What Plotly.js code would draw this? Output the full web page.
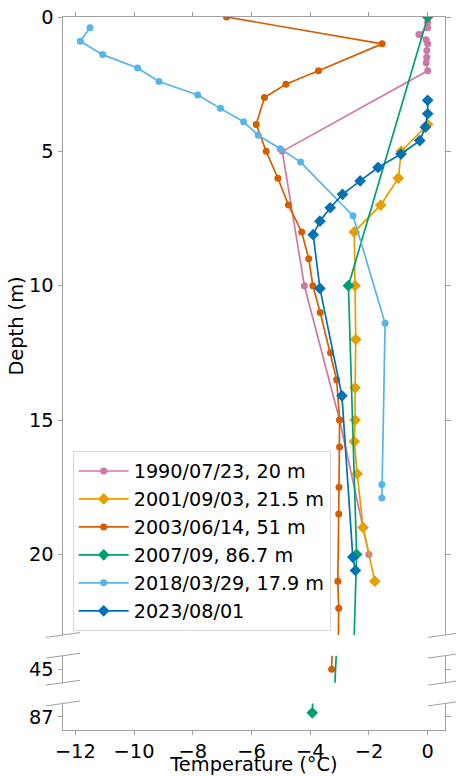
<!DOCTYPE html>
<html>
<head>
<meta charset="utf-8">
<script src="https://cdn.plot.ly/plotly-3.0.1.min.js"></script>
<style>html,body{margin:0;padding:0;background:#fff;}#chart{width:456px;height:776px;}</style>
</head>
<body>
<div id="chart"></div>
<script>
// ---- data (temperature °C vs depth m) ----
const names = ["1990/07/23, 20 m", "2001/09/03, 21.5 m", "2003/06/14, 51 m", "2007/09, 86.7 m", "2018/03/29, 17.9 m", "2023/08/01"];

const depth1990 = [0.2, 0.4, 0.65, 0.85, 1.0, 1.25, 1.5, 1.7, 2.0, 5.0, 10.0, 15.0, 20.0];
const temp1990  = [0, 0, -0.3, -0.05, 0, -0.03, -0.03, -0.05, 0, -4.95, -4.2, -3.0, -2.0];

const depth2001 = [4.0, 5.0, 6.0, 7.0, 8.0, 10.0, 12.0, 13.8, 15.0, 15.8, 17.0, 19.0, 21.0];
const temp2001  = [0, -0.9, -1.0, -1.6, -2.5, -2.47, -2.45, -2.47, -2.47, -2.5, -2.4, -2.2, -1.8];

const depth2003 = [0, 1.0, 2.0, 2.5, 3.0, 4.0, 5.0, 6.0, 7.0, 8.0, 9.0, 10.0, 11.0, 12.5, 13.5, 15.0, 16.0, 17.5, 18.5, 21.0, 22.0, 45.0];
const temp2003  = [-6.85, -1.55, -3.72, -4.83, -5.56, -5.84, -5.5, -5.1, -4.74, -4.29, -4.05, -3.91, -3.66, -3.31, -3.1, -3.0, -3.0, -3.02, -3.03, -3.06, -3.03, -3.27];

const depth2007 = [0, 10, 20, 30, 50, 86.7];
const temp2007  = [0, -2.7, -2.42, -2.8, -3.25, -3.93];

const depth2018 = [0.4, 0.9, 1.4, 1.9, 2.4, 2.9, 3.4, 3.9, 4.4, 4.9, 5.4, 7.4, 11.4, 17.4, 17.9];
const temp2018  = [-11.5, -11.83, -11.07, -9.88, -9.15, -7.83, -7.06, -6.27, -5.77, -5.02, -4.33, -2.54, -1.45, -1.56, -1.56];

const depth2023 = [3.1, 3.6, 4.1, 4.6, 5.1, 5.6, 6.1, 6.6, 7.1, 7.6, 8.1, 10.1, 14.1, 20.1, 20.6];
const temp2023  = [0, 0, -0.08, -0.27, -0.91, -1.69, -2.3, -2.9, -3.32, -3.67, -3.9, -3.67, -2.92, -2.55, -2.46];

const xTicks = [-12, -10, -8, -6, -4, -2, 0];
const yTicksMain = [0, 5, 10, 15, 20];
const yTicksMid = [45];
const yTicksLow = [87];

// ---- styling ----
const colors = ["#CC79A7", "#E69F00", "#D55E00", "#009E73", "#56B4E9", "#0072B2"];
const symbols = ["circle", "diamond", "circle", "diamond", "circle", "diamond"];
const sizes = [7, 9, 7, 9, 7, 9];
const series = [
  [temp1990, depth1990], [temp2001, depth2001], [temp2003, depth2003],
  [temp2007, depth2007], [temp2018, depth2018], [temp2023, depth2023]
];

const subplots = [
  {xa: "x3", ya: "y"},
  {xa: "x2", ya: "y2"},
  {xa: "x",  ya: "y3"}
];

const traces = [];
series.forEach((s, i) => {
  subplots.forEach((sp, k) => {
    traces.push({
      type: "scatter", mode: "lines+markers",
      x: s[0], y: s[1], xaxis: sp.xa, yaxis: sp.ya,
      name: names[i], legendgroup: "g" + i, showlegend: k === 0,
      line: {color: colors[i], width: 1.7},
      marker: {color: colors[i], symbol: symbols[i], size: sizes[i], line: {width: 0}},
      cliponaxis: true, hoverinfo: "skip"
    });
  });
});

const W = 456, H = 776;
const mL = 63, mR = 11, mT = 17, mB = 46;
const plotW = W - mL - mR, plotH = H - mT - mB;
const pyToPaper = py => (H - mB - py) / plotH;
const pxToPaper = px => (px - mL) / plotW;

const domMain = [pyToPaper(635), 1];
const domMid = [pyToPaper(682.7), pyToPaper(655.7)];
const domLow = [0, pyToPaper(703.5)];

const spine = "#a0a0a0";
const font = {family: "DejaVu Sans, sans-serif", size: 19.4, color: "#000"};
const legendFont = {family: "DejaVu Sans, sans-serif", size: 19.2, color: "#000"};
const xRange = [-12.42, 0.59];

const baseY = {
  showline: true, linecolor: spine, linewidth: 1, mirror: "ticks",
  ticks: "outside", ticklen: 4.5, tickcolor: spine, tickwidth: 1,
  showgrid: false, zeroline: false, tickfont: font, fixedrange: true
};

// break marks
const shapes = [];
const dx = 17 / plotW, dy = 2.4 / plotH;
[domMain[0], domMid[1], domMid[0], domLow[1]].forEach(yy => {
  [0, 1].forEach(xx => {
    shapes.push({type: "line", xref: "paper", yref: "paper",
      x0: xx - dx, x1: xx + dx, y0: yy - dy, y1: yy + dy,
      line: {color: spine, width: 1}});
  });
});

const layout = {
  width: W, height: H,
  margin: {l: mL, r: mR, t: mT, b: mB, pad: 0},
  paper_bgcolor: "#fff", plot_bgcolor: "#fff",
  font: font,
  showlegend: true,
  xaxis: {
    anchor: "y3", range: xRange, tickvals: xTicks,
    showline: true, linecolor: spine, ticks: "outside", ticklen: 3.5, tickcolor: spine,
    showgrid: false, zeroline: false, tickfont: font,
    title: {text: "Temperature (°C)", font: font, standoff: 8}
  },
  xaxis2: {anchor: "y2", matches: "x", range: xRange, visible: false, showgrid: false, zeroline: false},
  xaxis3: {
    anchor: "y", matches: "x", side: "top", range: xRange, tickvals: xTicks,
    showline: true, linecolor: spine, ticks: "outside", ticklen: 4.5, tickcolor: spine,
    showticklabels: false, showgrid: false, zeroline: false
  },
  yaxis: Object.assign({}, baseY, {
    anchor: "x3", domain: domMain, range: [23, 0], tickvals: yTicksMain,
    title: {text: "Depth (m)", font: font, standoff: 0}
  }),
  yaxis2: Object.assign({}, baseY, {anchor: "x2", domain: domMid, range: [46, 44], tickvals: yTicksMid}),
  yaxis3: Object.assign({}, baseY, {anchor: "x", domain: domLow, range: [88, 86], tickvals: yTicksLow}),
  legend: {
    x: pxToPaper(72.7), y: pyToPaper(451), xanchor: "left", yanchor: "top",
    bgcolor: "rgba(255,255,255,0.8)", bordercolor: "#d8d8d8", borderwidth: 1,
    font: legendFont, tracegroupgap: 0, itemwidth: 50
  },
  shapes: shapes
};

Plotly.newPlot("chart", traces, layout, {staticPlot: true, displayModeBar: false});
</script>
</body>
</html>
